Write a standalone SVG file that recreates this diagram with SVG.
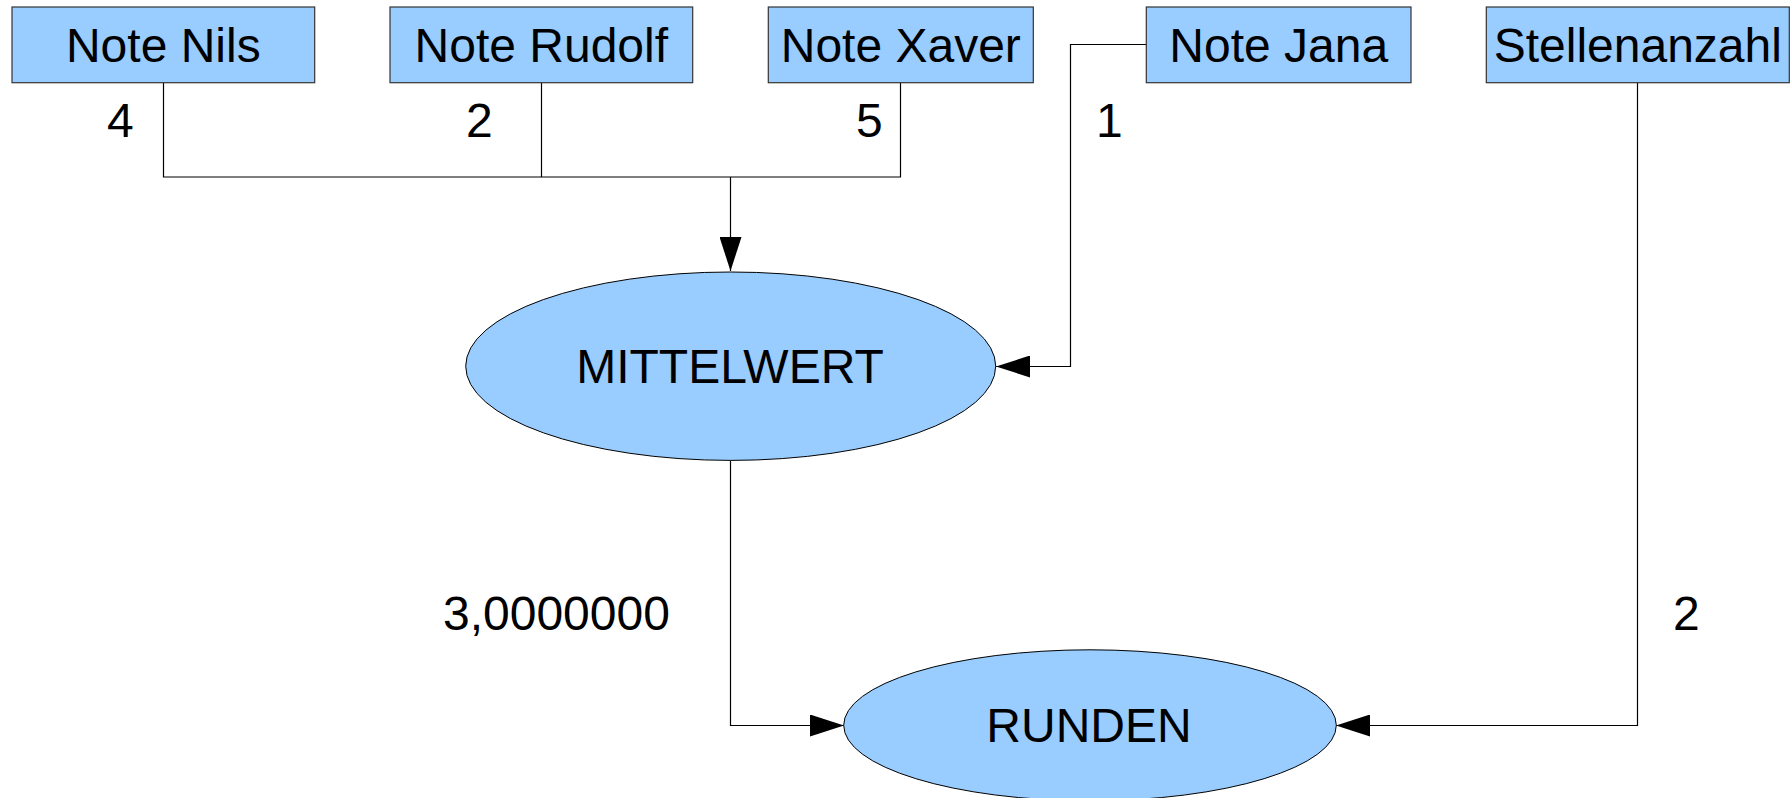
<svg xmlns="http://www.w3.org/2000/svg" width="1790" height="798" viewBox="0 0 1790 798">
<style>
.box{fill:#99ccff;stroke:#333;stroke-width:1.2}
.ell{fill:#99ccff;stroke:#000;stroke-width:1}
.t{font-family:"Liberation Sans",Arial,sans-serif;font-size:48px;fill:#000}
.c{text-anchor:middle}
.ln{fill:none;stroke:#000;stroke-width:1.2}
</style>
<defs>
<marker id="arr" markerUnits="userSpaceOnUse" markerWidth="34" markerHeight="22" refX="34" refY="11" orient="auto" viewBox="0 0 34 22">
<path d="M0,0 L34,11 L0,22 z" fill="#000"/>
</marker>
</defs>
<rect width="1790" height="798" fill="#fff"/>
<g id="connectors">
<polyline class="ln" points="163.5,82.7 163.5,177 900.5,177 900.5,82.7"/>
<line class="ln" x1="541.5" y1="82.7" x2="541.5" y2="177"/>
<line class="ln" x1="730.5" y1="177" x2="730.5" y2="271" marker-end="url(#arr)"/>
<polyline class="ln" points="1146.3,44.5 1070.5,44.5 1070.5,366.5 996,366.5" marker-end="url(#arr)"/>
<polyline class="ln" points="730.5,460.5 730.5,725.5 844,725.5" marker-end="url(#arr)"/>
<polyline class="ln" points="1637.5,82.7 1637.5,725.5 1336,725.5" marker-end="url(#arr)"/>
<text class="t" x="107" y="136.7">4</text>
<text class="t" x="466" y="136.7">2</text>
<text class="t" x="856" y="136.7">5</text>
<text class="t" x="1096" y="136.7">1</text>
<text class="t" x="443" y="630">3,0000000</text>
<text class="t" x="1673" y="630">2</text>
</g>
<g id="note-nils">
<rect class="box" x="12" y="7" width="302.7" height="75.7"/>
<text class="t c" x="163.3" y="61.7">Note Nils</text>
</g>
<g id="note-rudolf">
<rect class="box" x="390" y="7" width="302.7" height="75.7"/>
<text class="t c" x="541.3" y="61.7">Note Rudolf</text>
</g>
<g id="note-xaver">
<rect class="box" x="768.3" y="7" width="265" height="75.7"/>
<text class="t c" x="900.8" y="61.7">Note Xaver</text>
</g>
<g id="note-jana">
<rect class="box" x="1146.3" y="7" width="264.7" height="75.7"/>
<text class="t c" x="1278.7" y="61.7">Note Jana</text>
</g>
<g id="stellenanzahl">
<rect class="box" x="1486.3" y="7" width="303" height="75.7"/>
<text class="t c" x="1637.8" y="61.7">Stellenanzahl</text>
</g>
<g id="mittelwert">
<ellipse class="ell" cx="730.7" cy="366.2" rx="265" ry="94.2"/>
<text class="t c" x="730" y="383.3">MITTELWERT</text>
</g>
<g id="runden">
<ellipse class="ell" cx="1090" cy="725.3" rx="246.3" ry="75.5"/>
<text class="t c" x="1089" y="742">RUNDEN</text>
</g>
</svg>
